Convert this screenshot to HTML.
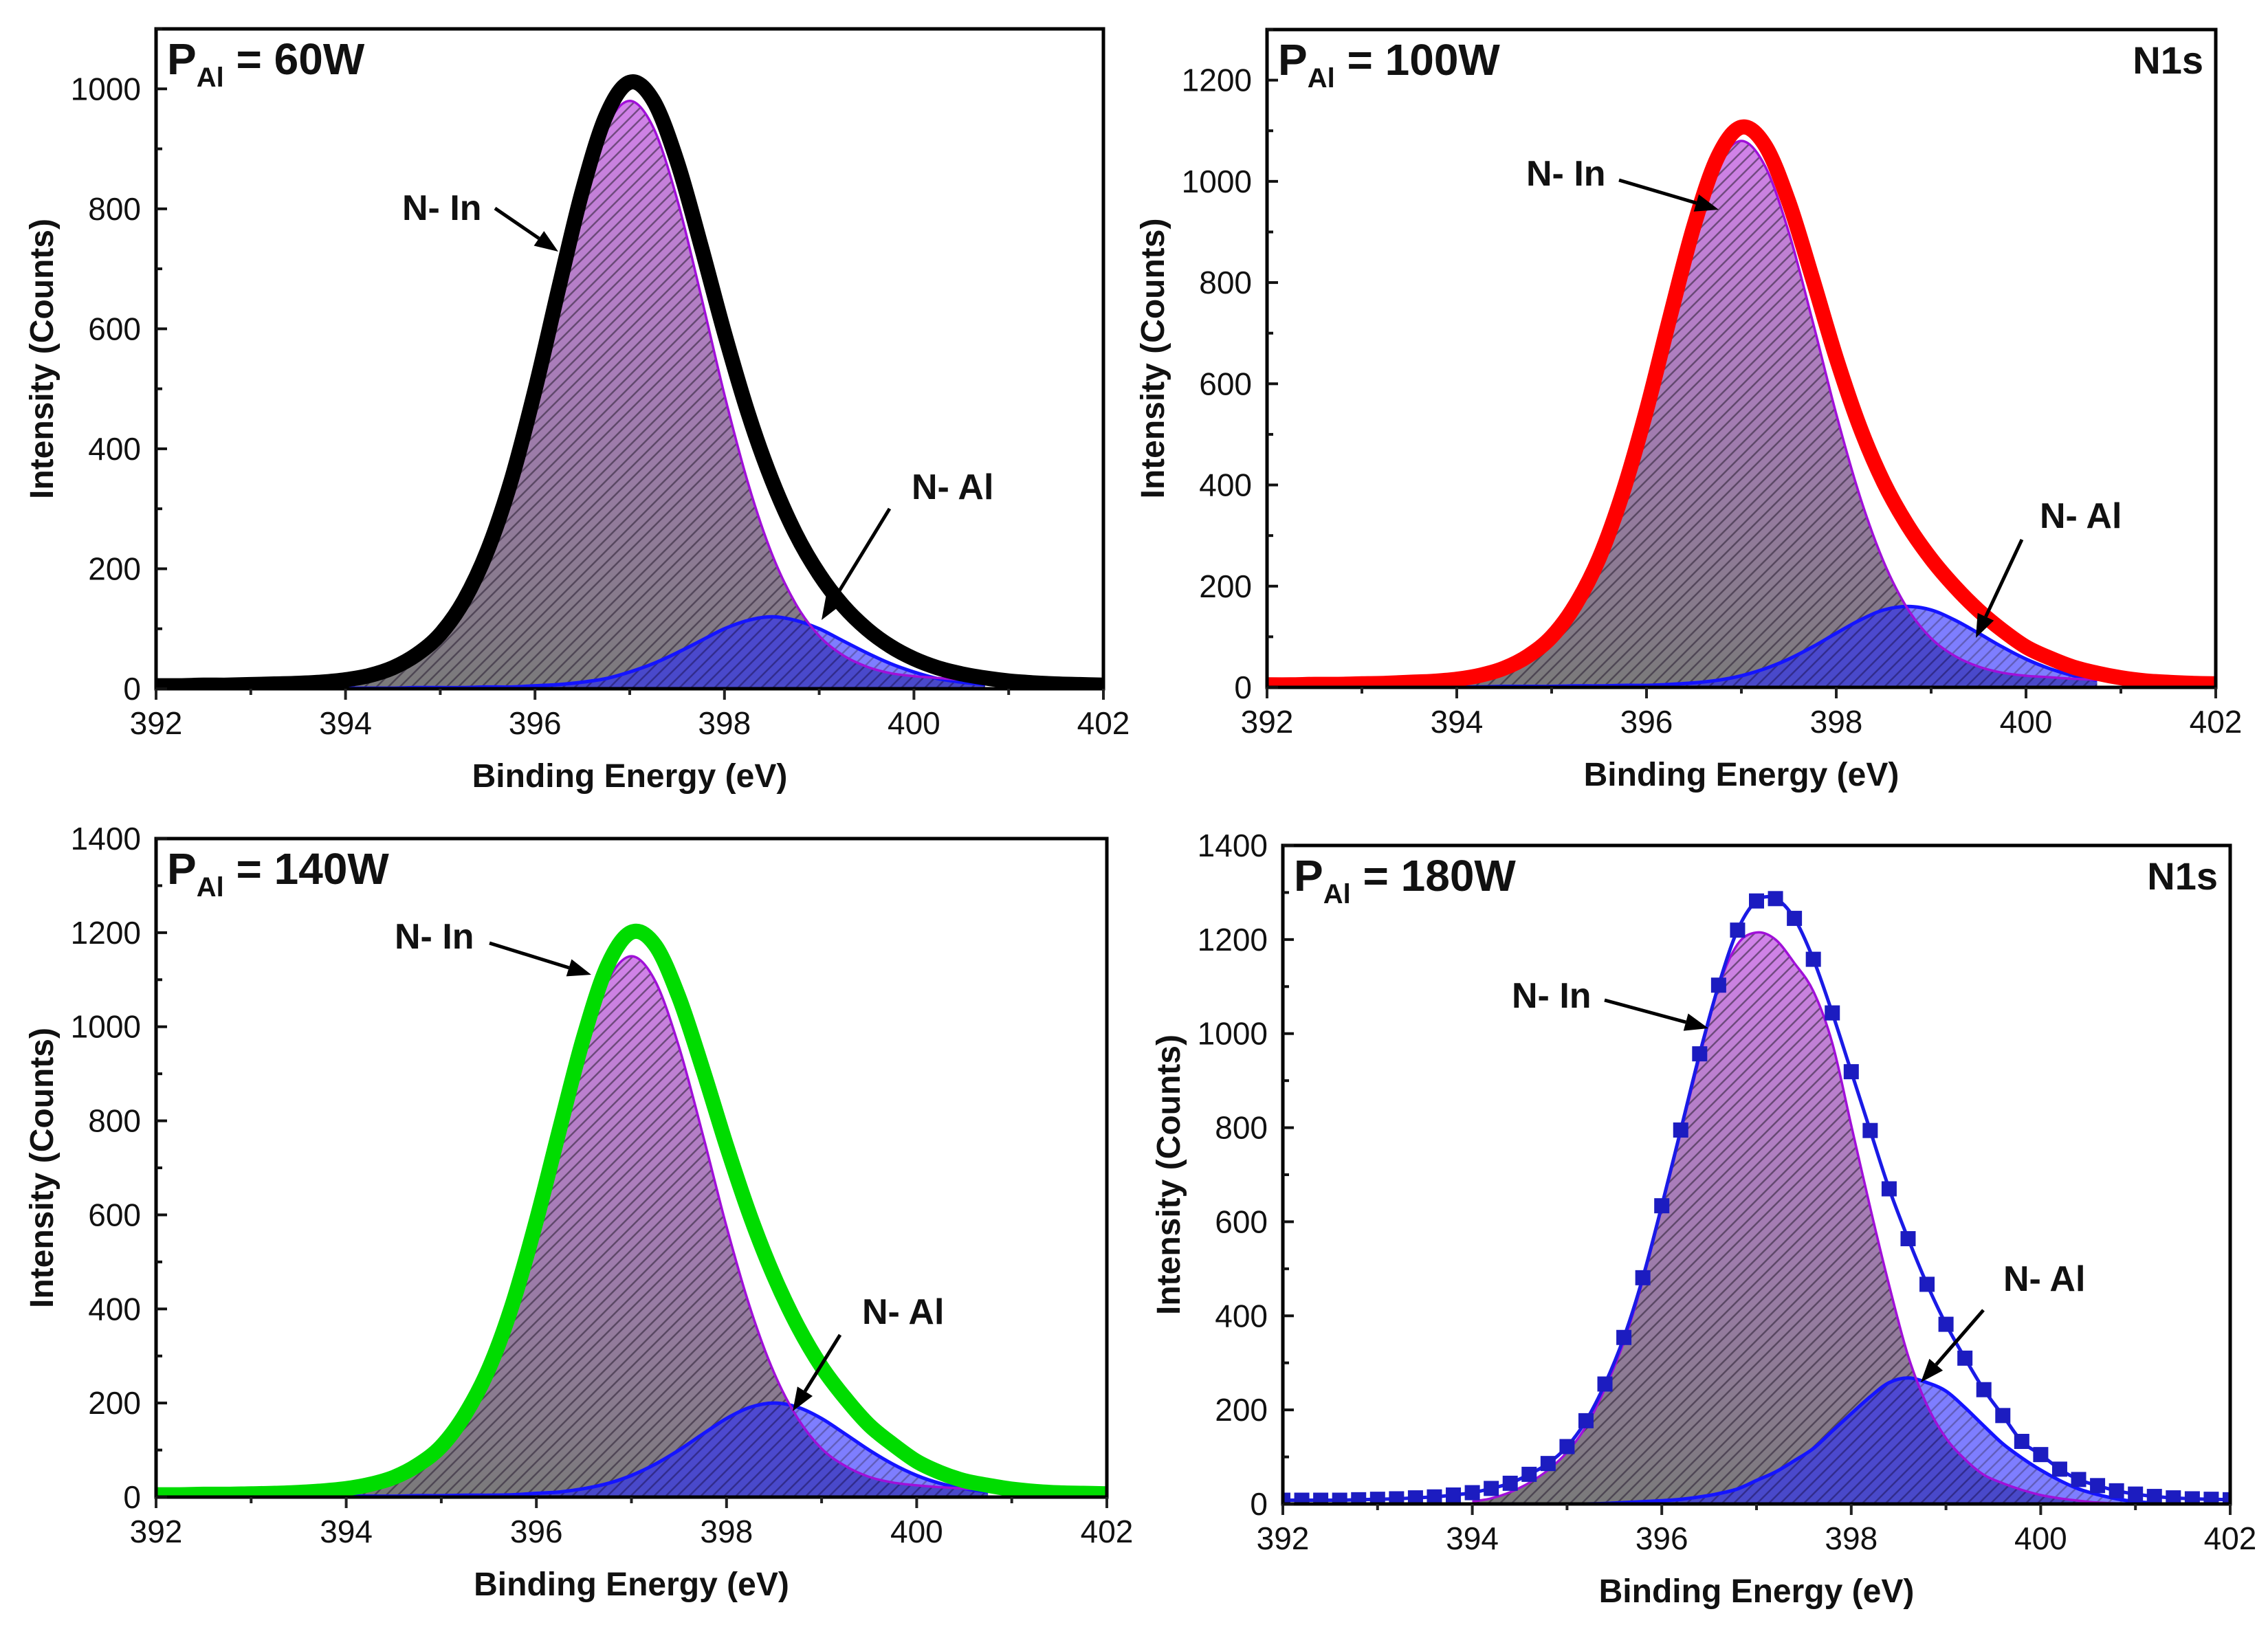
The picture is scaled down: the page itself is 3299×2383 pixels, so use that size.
<!DOCTYPE html>
<html><head><meta charset="utf-8"><style>
html,body{margin:0;padding:0;background:#fff;}
svg{display:block;}
.tick{font-family:"Liberation Sans Narrow","Liberation Sans",sans-serif;font-size:46px;fill:#111;}
.ttl{font-family:"Liberation Sans",sans-serif;font-size:48px;font-weight:bold;fill:#111;}
.ann{font-family:"Liberation Sans",sans-serif;font-size:52px;font-weight:bold;fill:#111;}
.lab{font-family:"Liberation Sans",sans-serif;font-weight:bold;fill:#111;}
</style></head><body>
<svg id="fig" xmlns="http://www.w3.org/2000/svg" width="3299" height="2383" viewBox="0 0 3299 2383">
<defs>
<linearGradient id="gIn" x1="0" y1="0" x2="0" y2="1"><stop offset="0" stop-color="#d282ea"/><stop offset="0.55" stop-color="#a07cae"/><stop offset="1" stop-color="#7a7a7a"/></linearGradient>
<pattern id="hatch" patternUnits="userSpaceOnUse" width="17" height="17"><path d="M-2,19 L19,-2 M-2,2 L2,-2 M15,19 L19,15" stroke="rgba(40,30,50,0.55)" stroke-width="2.5"/></pattern>
</defs>
</svg>
<script>
// shared energy grids (eV)
const gridData = [392,392.25,392.5,392.75,393,393.25,393.5,393.75,394,394.25,394.5,394.75,395,395.25,395.5,395.75,396,396.25,396.5,396.75,397,397.25,397.5,397.75,398,398.25,398.5,398.75,399,399.25,399.5,399.75,400,400.25,400.5,400.75,401,401.25,401.5,401.75,402];
const gridComp = [394,394.25,394.5,394.75,395,395.25,395.5,395.75,396,396.25,396.5,396.75,397,397.25,397.5,397.75,398,398.25,398.5,398.75,399,399.25,399.5,399.75,400,400.25,400.5,400.75];
const xTicks = [392,394,396,398,400,402];
const xTickLabels = ["392","394","396","398","400","402"];
// panel 1 (60W)
const p1Data = [5,5,6,6,7,8,9,11,15,22,35,57,91,147,231,348,498,667,830,955,1011,980,879,740,593,459,348,259,191,139,100,71,50,35,25,18,13,10,8,7,6];
const p1NIn = [21,26,37,56,88,142,225,342,490,657,816,935,980,935,816,657,490,342,225,142,88,56,37,26,21,18,15,14];
const p1NAl = [1,1,1,2,2,2,3,3,5,7,11,17,28,42,60,80,100,114,120,114,100,80,60,42,28,17,11,7];
const p1YTicks = [0,200,400,600,800,1000];
// panel 2 (100W)
const p2Data = [5,5,6,6,7,8,10,12,16,24,38,62,100,163,255,385,548,734,912,1048,1107,1071,959,808,651,514,405,321,254,199,152,113,80,58,40,28,19,13,10,8,7];
const p2NIn = [23,29,41,62,97,156,248,377,540,724,899,1030,1080,1030,899,724,540,377,248,156,97,62,41,29,23,20,17,15];
const p2NAl = [1,1,2,2,2,3,3,4,4,6,9,14,23,37,56,80,107,133,153,160,153,133,107,80,56,37,23,14];
const p2YTicks = [0,200,400,600,800,1000,1200];
// panel 3 (140W)
const p3Data = [5,5,6,6,7,8,10,13,18,27,42,68,108,176,273,411,588,787,980,1131,1201,1173,1062,910,747,597,469,363,277,210,153,112,76,52,35,25,17,12,9,8,7];
const p3NIn = [25,31,43,66,103,167,264,401,575,771,957,1097,1150,1097,957,771,575,401,264,167,103,66,43,31,25,21,18,16];
const p3NAl = [2,2,2,3,3,4,4,5,8,11,18,29,46,70,100,134,167,191,200,191,167,134,100,70,46,29,18,11];
const p3YTicks = [0,200,400,600,800,1000,1200,1400];
// panel 4 (180W)
const p4DataX = [392,392.2,392.4,392.6,392.8,393,393.2,393.4,393.6,393.8,394,394.2,394.4,394.6,394.8,395,395.2,395.4,395.6,395.8,396,396.2,396.4,396.6,396.8,397,397.2,397.4,397.6,397.8,398,398.2,398.4,398.6,398.8,399,399.2,399.4,399.6,399.8,400,400.2,400.4,400.6,400.8,401,401.2,401.4,401.6,401.8,402];
const p4Data = [8,8,8,8,9,10,11,13,15,19,24,33,44,63,86,122,177,255,354,481,634,795,957,1103,1220,1282,1287,1245,1158,1044,919,794,670,564,467,382,310,243,188,133,105,74,52,39,28,21,16,13,11,10,9];
const p4NInX = [394,394.2,394.4,394.6,394.8,395,395.2,395.4,395.6,395.8,396,396.2,396.4,396.6,396.8,397,397.2,397.4,397.6,397.8,398,398.2,398.4,398.6,398.8,399,399.2,399.4,399.6,399.8,400,400.2,400.4,400.6,400.8,401];
const p4NIn = [5,12,25,45,72,110,165,245,345,475,630,790,950,1100,1190,1215,1200,1150,1090,980,805,630,465,315,210,140,95,62,44,30,19,12,7,3,1,0];
const p4NAlX = [395.2,395.4,395.6,395.8,396,396.2,396.4,396.6,396.8,397,397.2,397.4,397.6,397.8,398,398.2,398.4,398.6,398.8,399,399.2,399.4,399.6,399.8,400,400.2,400.4,400.6,400.8,401,401.2];
const p4NAl = [0,1,3,5,7,10,15,22,32,50,68,92,118,155,192,228,258,268,258,240,205,166,128,98,72,50,32,20,11,5,2];
const p4YTicks = [0,200,400,600,800,1000,1200,1400];

const NS = "http://www.w3.org/2000/svg";
const fig = document.getElementById('fig');
function mk(tag, attrs, parent){ const e=document.createElementNS(NS,tag); for(const k in attrs) e.setAttribute(k,attrs[k]); (parent||fig).appendChild(e); return e; }
function smooth(pts){
  let d = "M"+pts[0][0].toFixed(1)+","+pts[0][1].toFixed(1);
  for(let i=0;i<pts.length-1;i++){
    const p0=pts[Math.max(0,i-1)], p1=pts[i], p2=pts[i+1], p3=pts[Math.min(pts.length-1,i+2)];
    const c1x=p1[0]+(p2[0]-p0[0])/6, c1y=p1[1]+(p2[1]-p0[1])/6;
    const c2x=p2[0]-(p3[0]-p1[0])/6, c2y=p2[1]-(p3[1]-p1[1])/6;
    d+=" C"+c1x.toFixed(1)+","+c1y.toFixed(1)+" "+c2x.toFixed(1)+","+c2y.toFixed(1)+" "+p2[0].toFixed(1)+","+p2[1].toFixed(1);
  }
  return d;
}
function panel(c){
  const g = mk('g',{});
  
  
  const xs = v => c.L + (v-392)/10*(c.R-c.L);
  const ys = v => c.B - v/c.ymax*(c.B-c.T);
  const cid = c.name+'-clip';
  const cp = mk('clipPath',{id:cid},g); mk('rect',{x:c.L,y:c.T,width:c.R-c.L,height:c.B-c.T},cp);
  const plot = mk('g',{'clip-path':'url(#'+cid+')'},g);
  const inPts = c.inX.map((x,i)=>[xs(x),ys(c.inY[i])]);
  const inD = smooth(inPts);
  const inFillD = "M"+xs(c.inX[0])+","+c.B+" L"+inD.slice(1)+" L"+xs(c.inX[c.inX.length-1])+","+c.B+" Z";
  const f1 = mk('path',{d:inFillD,fill:'url(#gIn)'},plot);
  
  
  mk('path',{d:inFillD,fill:'url(#hatch)'},plot);
  const alPts = c.alX.map((x,i)=>[xs(x),ys(c.alY[i])]);
  const alD = smooth(alPts);
  const alFillD = "M"+xs(c.alX[0])+","+c.B+" L"+alD.slice(1)+" L"+xs(c.alX[c.alX.length-1])+","+c.B+" Z";
  const f2 = mk('path',{d:alFillD,fill:'rgba(40,40,255,0.6)'},plot);
  
  
  mk('path',{d:alFillD,fill:'url(#hatch)',opacity:'0.6'},plot);
  const l2 = mk('path',{d:alD,fill:'none',stroke:'#1414ff','stroke-width':5},plot);
  
  
  const l1 = mk('path',{d:inD,fill:'none',stroke:'#a010d8','stroke-width':3.5},plot);
  
  
  const dPts = c.dX.map((x,i)=>[xs(x),ys(c.dY[i])]);
  if(c.dense){
    const dl = mk('path',{d:smooth(dPts),fill:'none',stroke:c.color,'stroke-width':22,'stroke-linejoin':'round'},plot);
    
    
  } else {
    const dl = mk('path',{d:smooth(dPts),fill:'none',stroke:'#1a1ae6','stroke-width':5},plot);
    
    
    dPts.forEach(p=>{
      const r = mk('rect',{x:p[0]-11,y:p[1]-11,width:22,height:22,fill:'#1c1cc0'},plot);
      
      
    });
  }
  const fr = mk('rect',{x:c.L,y:c.T,width:c.R-c.L,height:c.B-c.T,fill:'none',stroke:'#000','stroke-width':5},g);
  
  
  for(let v=392; v<=402; v+=1){
    const maj = (v%2===0);
    mk('line',{x1:xs(v),x2:xs(v),y1:c.B,y2:c.B+(maj?16:9),stroke:'#222','stroke-width':4},g);
  }
  xTicks.forEach((v,i)=>{
    const t = mk('text',{x:xs(v),y:c.B+66,'text-anchor':'middle',class:'tick'},g);
    t.textContent = xTickLabels[i];
    
    
  });
  for(let v=0; v<=c.ymax+0.1; v+=100){
    const maj = (v%200===0);
    mk('line',{x1:c.L,x2:c.L+(maj?16:9),y1:ys(v),y2:ys(v),stroke:'#111','stroke-width':4},g);
  }
  c.yTicks.forEach(v=>{
    const t = mk('text',{x:c.L-22,y:ys(v)+16,'text-anchor':'end',class:'tick'},g);
    t.textContent = String(v);
    
    
  });
  const xt = mk('text',{x:(c.L+c.R)/2,y:c.B+143,'text-anchor':'middle',class:'ttl'},g);
  xt.textContent = 'Binding Energy (eV)';
  
  
  const yc = (c.T+c.B)/2, yx = c.L-150;
  const yt = mk('text',{x:yx,y:yc,'text-anchor':'middle',class:'ttl',transform:'rotate(-90 '+yx+' '+yc+')'},g);
  yt.textContent = 'Intensity (Counts)';
  
  
  const pl = mk('text',{x:c.L+16,y:c.T+66,class:'lab','font-size':'64'},g);
  
  
  const s1 = mk('tspan',{},pl); s1.textContent='P';
  const s2 = mk('tspan',{'font-size':'40',dy:'18'},pl); s2.textContent='Al';
  const s3 = mk('tspan',{dy:'-18'},pl); s3.textContent=' = '+c.power;
  if(c.n1s){
    const n = mk('text',{x:c.R-18,y:c.T+64,'text-anchor':'end',class:'lab','font-size':'56'},g);
    n.textContent='N1s';
    
    
  }
  [['N- In',c.inLab],['N- Al',c.alLab]].forEach(([txt,a])=>{
    const t = mk('text',{x:a[0],y:a[1],class:'ann'},g);
    t.textContent = txt;
    
    
    const x1=a[2],y1=a[3],x2=a[4],y2=a[5];
    const ang = Math.atan2(y2-y1,x2-x1), hl=34, hw=13;
    const bx = x2-hl*Math.cos(ang), by = y2-hl*Math.sin(ang);
    mk('line',{x1:x1,y1:y1,x2:bx,y2:by,stroke:'#000','stroke-width':5},g);
    const px=-Math.sin(ang)*hw, py=Math.cos(ang)*hw;
    const ar = mk('path',{d:'M'+x2+','+y2+' L'+(bx+px)+','+(by+py)+' L'+(bx-px)+','+(by-py)+' Z',fill:'#000'},g);
    
    
  });
}
panel({name:'panel-60w',L:227,R:1605,T:42,B:1002,ymax:1100,yTicks:p1YTicks,dX:gridData,dY:p1Data,inX:gridComp,inY:p1NIn,alX:gridComp,alY:p1NAl,color:'#000',dense:true,power:'60W',n1s:false,
  inLab:[585,320,720,303,812,366],alLab:[1326,726,1294,740,1195,902]});
panel({name:'panel-100w',L:1843,R:3223,T:43,B:1000,ymax:1300,yTicks:p2YTicks,dX:gridData,dY:p2Data,inX:gridComp,inY:p2NIn,alX:gridComp,alY:p2NAl,color:'#ff0000',dense:true,power:'100W',n1s:true,
  inLab:[2220,270,2355,262,2500,305],alLab:[2967,768,2941,785,2874,928]});
panel({name:'panel-140w',L:227,R:1610,T:1220,B:2178,ymax:1400,yTicks:p3YTicks,dX:gridData,dY:p3Data,inX:gridComp,inY:p3NIn,alX:gridComp,alY:p3NAl,color:'#00dc00',dense:true,power:'140W',n1s:false,
  inLab:[574,1380,712,1372,860,1418],alLab:[1254,1926,1222,1942,1153,2053]});
panel({name:'panel-180w',L:1866,R:3244,T:1230,B:2188,ymax:1400,yTicks:p4YTicks,dX:p4DataX,dY:p4Data,inX:p4NInX,inY:p4NIn,alX:p4NAlX,alY:p4NAl,color:'#1a1ae6',dense:false,power:'180W',n1s:true,
  inLab:[2199,1466,2334,1455,2485,1496],alLab:[2914,1878,2885,1906,2794,2011]});
</script>
</body></html>
